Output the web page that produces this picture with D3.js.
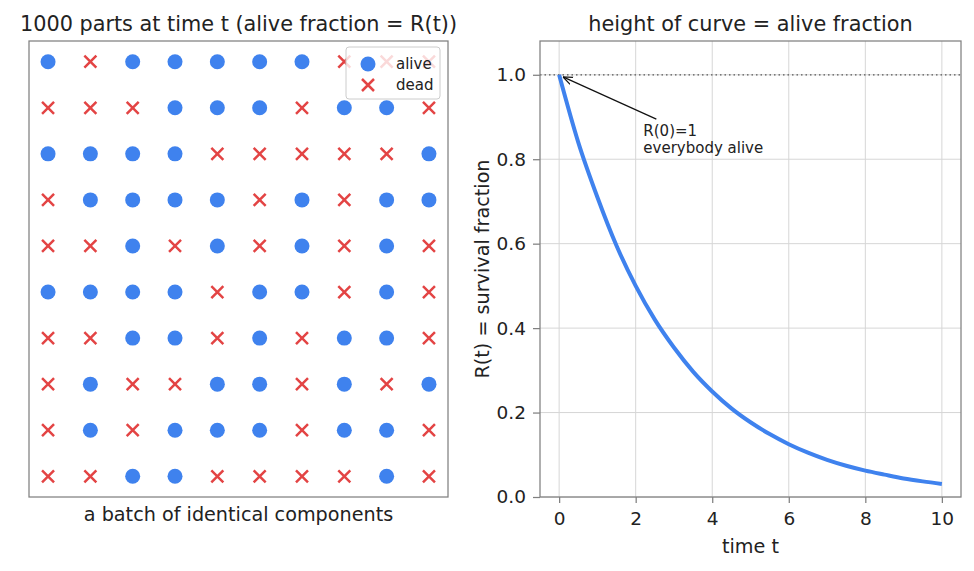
<!DOCTYPE html>
<html>
<head>
<meta charset="utf-8">
<script src="https://cdn.jsdelivr.net/npm/d3@7"></script>
<style>
  body { margin: 0; background: #fff; }
  text { font-family: "DejaVu Sans", sans-serif; fill: #222; }
</style>
</head>
<body>
<script>
// grid of parts, row by row from the top: 1 = alive, 0 = dead
var gridRows = [
  [1,0,1,1,1,1,1,0,0,0],
  [0,0,0,1,1,1,0,1,1,0],
  [1,1,1,1,0,0,0,0,0,1],
  [0,1,1,1,1,0,1,0,1,1],
  [0,0,1,0,1,0,1,0,1,0],
  [1,1,1,1,0,1,1,0,1,0],
  [0,0,1,1,0,1,0,1,1,0],
  [0,1,0,0,1,1,0,1,0,1],
  [0,1,0,1,1,1,0,1,1,0],
  [0,0,1,1,0,0,0,0,1,0]
];
var legendLabels = ["alive", "dead"];

// survival curve
var timeT = [0,0.5,1,1.5,2,2.5,3,3.5,4,4.5,5,5.5,6,6.5,7,7.5,8,8.5,9,9.5,10];
var survival = [1.0,0.84,0.71,0.595,0.50,0.42,0.354,0.297,0.25,0.21,0.177,0.149,0.125,0.105,0.088,0.074,0.0625,0.053,0.044,0.037,0.031];
var xTicks = [0,2,4,6,8,10];
var yTicks = [0,0.2,0.4,0.6,0.8,1.0];

var blue = "#3f82ee", red = "#e34444", spine = "#808080";

var svg = d3.select("body").append("svg")
    .attr("width", 974)
    .attr("height", 571);

// ---------- left panel ----------
var L = {left: 29, top: 41, width: 419, height: 456};
var gl = svg.append("g").attr("transform", "translate(" + L.left + "," + L.top + ")");

var gx = d3.scaleLinear().domain([-0.45, 9.45]).range([0, L.width]);
var gy = d3.scaleLinear().domain([-0.45, 9.45]).range([0, L.height]);

var cells = [];
gridRows.forEach(function(row, r) {
  row.forEach(function(v, c) { cells.push({r: r, c: c, alive: v}); });
});

gl.selectAll("circle.alive")
    .data(cells.filter(function(d) { return d.alive; }))
  .enter().append("circle")
    .attr("class", "alive")
    .attr("cx", function(d) { return gx(d.c); })
    .attr("cy", function(d) { return gy(d.r); })
    .attr("r", 7.5)
    .attr("fill", blue);

var cross = "M-6,-6L6,6M-6,6L6,-6";
gl.selectAll("path.dead")
    .data(cells.filter(function(d) { return !d.alive; }))
  .enter().append("path")
    .attr("class", "dead")
    .attr("d", cross)
    .attr("transform", function(d) { return "translate(" + gx(d.c) + "," + gy(d.r) + ")"; })
    .attr("stroke", red)
    .attr("stroke-width", 2.5)
    .attr("fill", "none");

gl.append("rect")
    .attr("width", L.width).attr("height", L.height)
    .attr("fill", "none").attr("stroke", spine).attr("stroke-width", 1.25);

// legend
var lg = gl.append("g").attr("transform", "translate(317,6)");
lg.append("rect")
    .attr("width", 94).attr("height", 52).attr("rx", 3)
    .attr("fill", "rgba(255,255,255,0.8)")
    .attr("stroke", "#cccccc");
lg.append("circle").attr("cx", 22).attr("cy", 17).attr("r", 7.5).attr("fill", blue);
lg.append("path").attr("d", cross).attr("transform", "translate(22,38)")
    .attr("stroke", red).attr("stroke-width", 2.5);
lg.selectAll("text.lab")
    .data(legendLabels)
  .enter().append("text")
    .attr("x", 50)
    .attr("y", function(d, i) { return 17 + i * 21; })
    .attr("dy", "0.35em")
    .attr("font-size", "15px")
    .text(function(d) { return d; });

svg.append("text")
    .attr("x", L.left + L.width / 2).attr("y", 31)
    .attr("text-anchor", "middle").attr("font-size", "20.8px")
    .text("1000 parts at time t (alive fraction = R(t))");
svg.append("text")
    .attr("x", L.left + L.width / 2).attr("y", 521)
    .attr("text-anchor", "middle").attr("font-size", "19.2px")
    .text("a batch of identical components");

// ---------- right panel ----------
var R = {left: 540, top: 41, width: 421, height: 456};
var gr = svg.append("g").attr("transform", "translate(" + R.left + "," + R.top + ")");

var x = d3.scaleLinear().domain([-0.5, 10.5]).range([0, R.width]);
var y = d3.scaleLinear().domain([0, 1.08]).range([R.height, 0]);

// grid
gr.selectAll("line.vg").data(xTicks).enter().append("line")
    .attr("x1", function(d) { return x(d); }).attr("x2", function(d) { return x(d); })
    .attr("y1", 0).attr("y2", R.height)
    .attr("stroke", "#d6d6d6").attr("stroke-width", 1);
gr.selectAll("line.hg").data(yTicks).enter().append("line")
    .attr("y1", function(d) { return y(d); }).attr("y2", function(d) { return y(d); })
    .attr("x1", 0).attr("x2", R.width)
    .attr("stroke", "#d6d6d6").attr("stroke-width", 1);

// reference line at R = 1
gr.append("line")
    .attr("x1", 0).attr("x2", R.width)
    .attr("y1", y(1)).attr("y2", y(1))
    .attr("stroke", "#555").attr("stroke-width", 1.2)
    .attr("stroke-dasharray", "1.5,3");

var line = d3.line()
    .x(function(d, i) { return x(timeT[i]); })
    .y(function(d) { return y(d); })
    .curve(d3.curveMonotoneX);

gr.append("path")
    .datum(survival)
    .attr("d", line)
    .attr("fill", "none")
    .attr("stroke", blue)
    .attr("stroke-width", 4);

// axes
var xAxis = gr.append("g")
    .attr("transform", "translate(0," + R.height + ")")
    .call(d3.axisBottom(x).tickValues(xTicks).tickSize(6).tickPadding(9).tickFormat(d3.format("d")));
var yAxis = gr.append("g")
    .call(d3.axisLeft(y).tickValues(yTicks).tickSize(7).tickPadding(7).tickFormat(d3.format(".1f")));
[xAxis, yAxis].forEach(function(a) {
  a.select(".domain").remove();
  a.selectAll(".tick line").attr("stroke", spine).attr("stroke-width", 1.25);
  a.selectAll(".tick text").attr("font-size", "18.5px").attr("fill", "#222")
      .attr("font-family", "DejaVu Sans, sans-serif");
});

gr.append("rect")
    .attr("width", R.width).attr("height", R.height)
    .attr("fill", "none").attr("stroke", spine).attr("stroke-width", 1.25);

// annotation
svg.append("defs").append("marker")
    .attr("id", "arrow")
    .attr("viewBox", "0 0 10 10")
    .attr("refX", 10).attr("refY", 5)
    .attr("markerWidth", 8).attr("markerHeight", 8)
    .attr("orient", "auto")
  .append("path")
    .attr("d", "M0,1L10,5L0,9")
    .attr("fill", "none").attr("stroke", "#111").attr("stroke-width", 1.3);

gr.append("line")
    .attr("x1", x(2.54)).attr("y1", y(0.895))
    .attr("x2", x(0.1)).attr("y2", y(0.995))
    .attr("stroke", "#111").attr("stroke-width", 1.2)
    .attr("marker-end", "url(#arrow)");
var ann = gr.append("text").attr("font-size", "15px")
    .attr("x", x(2.2)).attr("y", y(0.855));
ann.append("tspan").attr("x", x(2.2)).text("R(0)=1");
ann.append("tspan").attr("x", x(2.2)).attr("dy", "1.13em").text("everybody alive");

svg.append("text")
    .attr("x", R.left + R.width / 2).attr("y", 31)
    .attr("text-anchor", "middle").attr("font-size", "20.8px")
    .text("height of curve = alive fraction");
svg.append("text")
    .attr("x", R.left + x(5)).attr("y", 553)
    .attr("text-anchor", "middle").attr("font-size", "19.2px")
    .text("time t");
svg.append("text")
    .attr("transform", "translate(489," + (R.top + R.height / 2) + ") rotate(-90)")
    .attr("text-anchor", "middle").attr("font-size", "19.2px")
    .text("R(t) = survival fraction");
</script>
</body>
</html>
